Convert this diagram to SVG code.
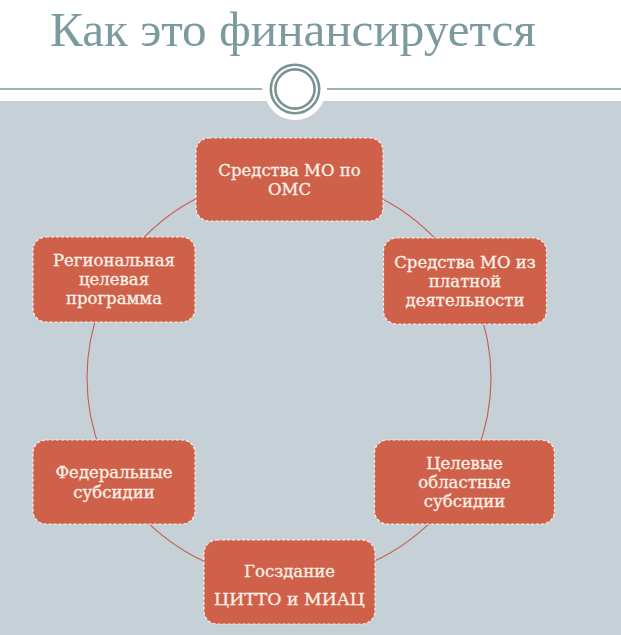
<svg xmlns="http://www.w3.org/2000/svg" width="621" height="635" viewBox="0 0 621 635">
  <style>
    .node rect { fill: #cf614a; stroke: #fbeee6; stroke-width: 1.2; stroke-dasharray: 3 2; }
    .node text { font-family: "DejaVu Serif", "Liberation Serif", serif; font-size: 16.5px; fill: #fdf2e9; stroke: #fdf2e9; stroke-width: 0.3; text-anchor: middle; }
    .title { font-family: "Liberation Serif", "DejaVu Serif", serif; font-size: 49px; fill: #7b9b9f; }
    .hline { stroke: #7f9999; stroke-width: 1.5; }
    .ring { fill: none; stroke: #7a9494; stroke-width: 2.6; }
  </style>
  <rect x="0" y="0" width="621" height="635" fill="#ffffff"/>
  <rect x="0" y="101" width="621" height="534" fill="#c6d1d7"/>
  <g id="header">
    <text class="title" x="50" y="46" textLength="486" lengthAdjust="spacingAndGlyphs">Как это финансируется</text>
    <line class="hline" x1="0" y1="89" x2="262" y2="89"/>
    <line class="hline" x1="327" y1="89" x2="621" y2="89"/>
    <circle cx="295" cy="89" r="31" fill="#ffffff"/>
    <circle class="ring" cx="295" cy="89" r="24.2"/>
    <circle class="ring" cx="295" cy="89" r="19.6"/>
  </g>
  <g id="connectors">
    <circle cx="289" cy="378" r="202" fill="none" stroke="#c95a4f" stroke-width="1.1"/>
  </g>
  <g id="node-oms" class="node">
    <rect x="196" y="138" width="187" height="83" rx="13"/>
    <text x="289.5" y="176">Средства МО по</text>
    <text x="289.5" y="195">ОМС</text>
  </g>
  <g id="node-paid" class="node">
    <rect x="383.5" y="238" width="163" height="86" rx="13"/>
    <text x="465" y="268">Средства МО из</text>
    <text x="465" y="287">платной</text>
    <text x="465" y="306">деятельности</text>
  </g>
  <g id="node-oblast" class="node">
    <rect x="374.5" y="440" width="180" height="84" rx="13"/>
    <text x="464.5" y="469">Целевые</text>
    <text x="464.5" y="488">областные</text>
    <text x="464.5" y="507">субсидии</text>
  </g>
  <g id="node-gos" class="node">
    <rect x="204" y="540" width="171" height="84" rx="13"/>
    <text x="289.5" y="577">Госздание</text>
    <text x="289.5" y="605" style="font-size:17.3px">ЦИТТО и МИАЦ</text>
  </g>
  <g id="node-federal" class="node">
    <rect x="33" y="440" width="162" height="84" rx="13"/>
    <text x="114" y="478">Федеральные</text>
    <text x="114" y="498">субсидии</text>
  </g>
  <g id="node-regional" class="node">
    <rect x="33" y="237" width="162" height="85" rx="13"/>
    <text x="114" y="266">Региональная</text>
    <text x="114" y="285">целевая</text>
    <text x="114" y="304">программа</text>
  </g>
</svg>
